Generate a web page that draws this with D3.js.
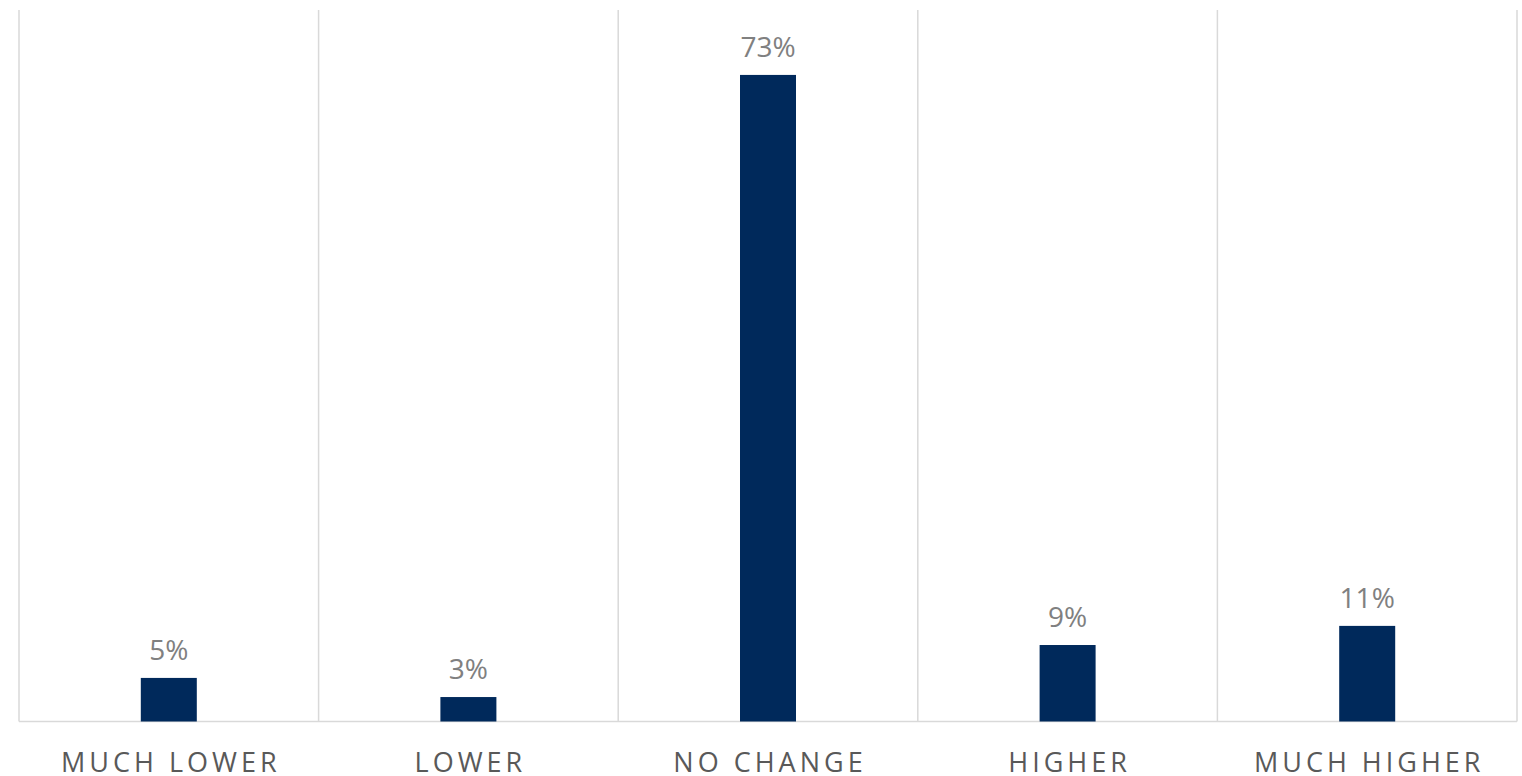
<!DOCTYPE html>
<html>
<head>
<meta charset="utf-8">
<script src="https://cdn.jsdelivr.net/npm/d3@7"></script>
<style>
  html, body { margin: 0; padding: 0; background: #ffffff; }
  svg { display: block; }
</style>
</head>
<body>
<svg id="chart" width="1522" height="776"></svg>
<script>
const categories = ["MUCH LOWER", "LOWER", "NO CHANGE", "HIGHER", "MUCH HIGHER"];
const values = [0.049, 0.0275, 0.727, 0.086, 0.1075];
const yDomain = [0, 0.8];

const W = 1522, H = 776;
const margin = { left: 19, right: 5, top: 10, bottom: 54.5 };
const svg = d3.select("#chart");

const x = d3.scaleBand()
  .domain(categories)
  .range([margin.left, W - margin.right])
  .paddingInner(0).paddingOuter(0);

const y = d3.scaleLinear()
  .domain(yDomain)
  .range([H - margin.bottom, margin.top]);

const gridColor = "#d9d9d9";

// vertical separators (category boundaries)
const bounds = categories.map(c => x(c)).concat([x(categories[categories.length - 1]) + x.bandwidth()]);
svg.append("g").selectAll("line")
  .data(bounds)
  .join("line")
  .attr("x1", d => d).attr("x2", d => d)
  .attr("y1", y(yDomain[1])).attr("y2", y(0))
  .attr("stroke", gridColor).attr("stroke-width", 1.5);

// baseline
svg.append("line")
  .attr("x1", x.range()[0]).attr("x2", x.range()[1])
  .attr("y1", y(0)).attr("y2", y(0))
  .attr("stroke", gridColor).attr("stroke-width", 1.5);

const barW = 56;
svg.append("g").selectAll("rect")
  .data(values)
  .join("rect")
  .attr("x", (d, i) => x(categories[i]) + x.bandwidth() / 2 - barW / 2)
  .attr("y", d => y(d))
  .attr("width", barW)
  .attr("height", d => y(0) - y(d))
  .attr("fill", "#00295b");

const fmt = d3.format(".0%");
svg.append("g").selectAll("text")
  .data(values)
  .join("text")
  .attr("x", (d, i) => x(categories[i]) + x.bandwidth() / 2)
  .attr("y", d => y(d) - 18)
  .attr("text-anchor", "middle")
  .attr("font-family", "'Open Sans', sans-serif")
  .attr("font-size", 28)
  .attr("fill", "#808080")
  .text(d => fmt(d));

// category axis labels
const xAxis = d3.axisBottom(x).tickSize(0).tickPadding(0);
const gx = svg.append("g")
  .attr("transform", `translate(0,${y(0)})`)
  .call(xAxis);
gx.select(".domain").remove();
gx.selectAll("text")
  .attr("y", 50.5)
  .attr("dy", 0)
  .attr("dx", 2)
  .attr("font-family", "'Open Sans', sans-serif")
  .attr("font-size", 27)
  .attr("letter-spacing", 4)
  .attr("fill", "#595959");
</script>
</body>
</html>
